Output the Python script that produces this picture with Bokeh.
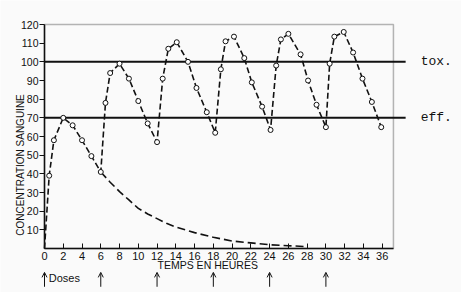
from bokeh.plotting import figure
from bokeh.models import Range1d, FixedTicker, Label, Arrow, OpenHead, ColumnDataSource, BoxAnnotation
from bokeh.embed import file_html
from bokeh.resources import INLINE

# ---- data ----
hours = [0, 0.5, 1, 2, 3, 4, 5, 6,
         6.5, 7, 8, 9, 10, 11, 12,
         12.6, 13.2, 14.1, 15.3, 16.2, 17.3, 18.2,
         18.8, 19.3, 20.2, 21.3, 22.1, 23.2, 24.1,
         24.7, 25.2, 26.0, 27.3, 28.1, 29.0, 30.0,
         30.4, 30.9, 31.9, 32.9, 33.9, 34.9, 35.9]
conc = [0, 39, 58, 70, 66, 58, 49.5, 41,
        78, 94, 99, 91, 79, 67, 57,
        91, 107, 110.5, 100, 86, 73, 62,
        96, 111, 113.5, 102, 89, 76, 63.5,
        98, 112, 115, 104, 90, 77, 65,
        99, 113.5, 116, 105, 91, 78.5, 65]

decay_hours = [6, 7, 8, 9, 10, 11, 12, 13, 14, 16, 18, 20, 22, 24, 26, 28]
decay_conc = [41, 35.5, 30.5, 26, 21.5, 18.5, 16, 13.5, 11.5, 8.5, 6, 4, 3, 2, 1.5, 1]

dose_hours = [0, 6, 12, 18, 24, 30]
threshold_values = [100, 70]
threshold_labels = ["tox.", "eff."]

x_ticks = list(range(0, 37, 2))
y_ticks = list(range(10, 121, 10))

x_label = "TEMPS EN HEURES"
y_label = "CONCENTRATION  SANGUINE"
dose_label = "Doses"

# ---- layout constants (screen geometry of the scanned chart) ----
X_MAX = 37.2     # right edge of the box (hours)
Y_MAX = 120      # top edge of the box
PX_PER_H = 9.38
PX_PER_U = 224 / 120.0
LEFT_PX, BOTTOM_PX = 44, 44
W, H = 461, 292

x0 = -LEFT_PX / PX_PER_H
x1 = (W - LEFT_PX) / PX_PER_H
y0 = -BOTTOM_PX / PX_PER_U
y1 = (H - BOTTOM_PX) / PX_PER_U

p = figure(width=W, height=H, output_backend="svg", toolbar_location=None,
           x_range=Range1d(x0, x1), y_range=Range1d(y0, y1), min_border=0)
p.background_fill_color = "#fafafa"
p.border_fill_color = "#fafafa"
p.outline_line_color = None
p.grid.visible = False

sans = "Liberation Sans"
mono = "Liberation Mono"
ink = "#111111"

xa = p.xaxis[0]
xa.fixed_location = 0
xa.bounds = (0, X_MAX)
xa.ticker = FixedTicker(ticks=x_ticks)
xa.major_tick_in = 5
xa.major_tick_out = 0
xa.minor_tick_line_color = None
xa.axis_line_width = 1.5
xa.axis_line_color = ink
xa.major_tick_line_color = ink
xa.major_label_text_font = sans
xa.major_label_text_font_size = "11px"
xa.major_label_text_color = ink
xa.major_label_standoff = 3

ya = p.yaxis[0]
ya.fixed_location = 0
ya.bounds = (0, Y_MAX)
ya.ticker = FixedTicker(ticks=y_ticks)
ya.major_tick_in = 0
ya.major_tick_out = 5
ya.minor_tick_line_color = None
ya.axis_line_width = 1.5
ya.axis_line_color = ink
ya.major_tick_line_color = ink
ya.major_label_text_font = sans
ya.major_label_text_font_size = "10.5px"
ya.major_label_text_color = ink
ya.major_label_standoff = 1

# box (top and right edges)
p.add_layout(BoxAnnotation(left=0, right=X_MAX, bottom=0, top=Y_MAX,
                           fill_alpha=0, line_color=ink, line_width=1.5))

# threshold lines extending beyond the box, with labels
n = len(threshold_values)
p.segment(x0=[0] * n, x1=[38.5] * n, y0=threshold_values, y1=threshold_values,
          line_color=ink, line_width=2)
p.text(x=[40.1] * n, y=threshold_values, text=threshold_labels,
       text_font={"value": mono}, text_font_size="13px",
       text_baseline="middle", text_align="left", text_color=ink)

# decay curve
p.line(decay_hours, decay_conc, line_color=ink, line_width=1.6, line_dash="8 4")

# main curve
p.line(hours, conc, line_color=ink, line_width=1.6, line_dash="6 3")
p.scatter(hours[1:], conc[1:], marker="circle", size=5, fill_color="white",
          line_color=ink, line_width=1)

# axis titles
p.add_layout(Label(x=-2.55, y=45.5, text=y_label, angle=1.5708, text_font=sans,
                   text_font_size="10px", text_align="center", text_baseline="middle",
                   text_color=ink))
p.add_layout(Label(x=17.4, y=-8.6, text=x_label, text_font=sans,
                   text_font_size="10.5px", text_align="center", text_baseline="middle",
                   text_color=ink))

# dose arrows
nd = len(dose_hours)
dsrc = ColumnDataSource(dict(xs=dose_hours, xe=dose_hours,
                             ys=[-20.5] * nd, ye=[-12.8] * nd))
p.add_layout(Arrow(source=dsrc, x_start="xs", y_start="ys", x_end="xe", y_end="ye",
                   end=OpenHead(size=5, line_width=1, line_color=ink),
                   line_color=ink, line_width=1))
p.add_layout(Label(x=dose_hours[0] + 0.45, y=-15.8, text=dose_label, text_font=sans,
                   text_font_size="11px", text_align="left", text_baseline="middle",
                   text_color=ink))

open("out.html", "w").write(file_html(p, INLINE))
